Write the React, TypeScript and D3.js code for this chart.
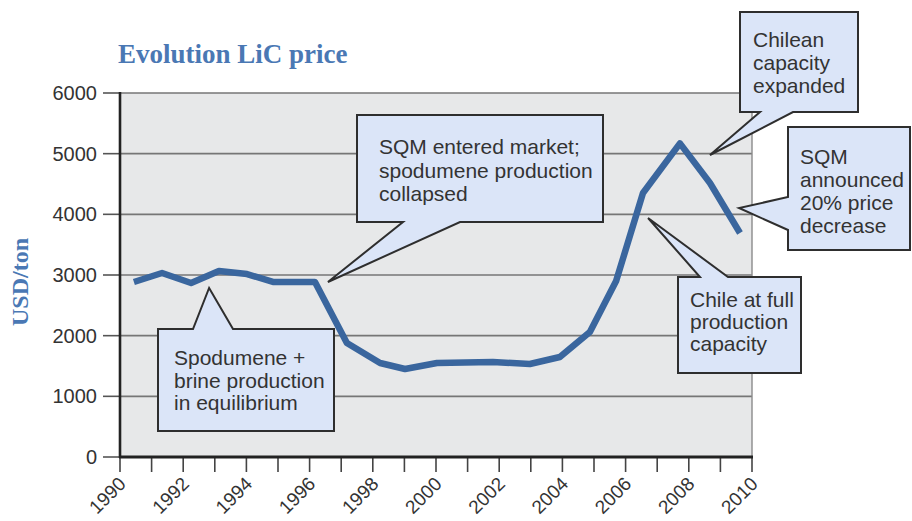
import React from "react";
import * as d3 from "d3";

// ---- data ----
const years = [1990.44, 1991.33, 1992.25, 1993.13, 1994.02, 1994.84, 1996.17, 1997.18, 1998.23, 1999.02, 2000.03, 2001.8, 2002.97, 2003.92, 2004.87, 2005.7, 2006.55, 2007.72, 2008.67, 2009.62];
const prices = [2885, 3033, 2868, 3066, 3016, 2885, 2885, 1879, 1549, 1450, 1549, 1566, 1533, 1648, 2060, 2900, 4351, 5170, 4516, 3692];
const yTicks = [0, 1000, 2000, 3000, 4000, 5000, 6000];
const xTickYears = d3.range(1990, 2011);
const xLabelYears = [1990, 1992, 1994, 1996, 1998, 2000, 2002, 2004, 2006, 2008, 2010];

const titleText = "Evolution LiC price";
const yAxisTitle = "USD/ton";

// callout annotations: text lines and the data point they refer to
const calloutLines = [
  ["Spodumene +", "brine production", "in equilibrium"],
  ["SQM entered market;", "spodumene production", "collapsed"],
  ["Chilean", "capacity", "expanded"],
  ["SQM", "announced", "20% price", "decrease"],
  ["Chile at full", "production", "capacity"],
];
const calloutTipYears = [1992.82, 1996.58, 2008.67, 2009.59, 2006.71];
const calloutTipValues = [2786, 2885, 4978, 4104, 3939];

// ---- layout ----
const W = 912;
const H = 521;
const L = 120, R = 752, T = 93, B = 457;

const boxes = [
  { x: 158, y: 329, w: 176, h: 102, side: "top", a: 193, b: 233, tx: 174, firstBase: 365, lh: 22.5 },
  { x: 357, y: 115, w: 246, h: 107, side: "bottom", a: 403, b: 460, tx: 379, firstBase: 154, lh: 23.5 },
  { x: 740, y: 12, w: 118, h: 100, side: "bottom", a: 760, b: 793, tx: 753, firstBase: 47, lh: 23 },
  { x: 788, y: 127, w: 122, h: 123, side: "left", a: 197, b: 230, tx: 800, firstBase: 164, lh: 23 },
  { x: 678, y: 277, w: 123, h: 96, side: "top", a: 700, b: 728, tx: 690, firstBase: 307, lh: 22 },
];

function calloutPath(bx: any, tip: [number, number]) {
  const { x, y, w, h, side, a, b } = bx;
  const p = d3.path();
  p.moveTo(x, y);
  if (side === "top") {
    p.lineTo(a, y);
    p.lineTo(tip[0], tip[1]);
    p.lineTo(b, y);
  }
  p.lineTo(x + w, y);
  p.lineTo(x + w, y + h);
  if (side === "bottom") {
    p.lineTo(b, y + h);
    p.lineTo(tip[0], tip[1]);
    p.lineTo(a, y + h);
  }
  p.lineTo(x, y + h);
  if (side === "left") {
    p.lineTo(x, b);
    p.lineTo(tip[0], tip[1]);
    p.lineTo(x, a);
  }
  p.closePath();
  return p.toString();
}

export default function App() {
  const xScale = d3.scaleLinear().domain([1990, 2010]).range([L, R]);
  const yScale = d3.scaleLinear().domain([0, 6000]).range([B, T]);
  const pts: [number, number][] = years.map((yr, i) => [yr, prices[i]]);
  const line = d3
    .line<[number, number]>()
    .x((d) => xScale(d[0]))
    .y((d) => yScale(d[1]));

  const sans = "'Liberation Sans', Arial, sans-serif";
  const serif = "'Liberation Serif', 'Times New Roman', serif";

  return (
    <svg width={W} height={H} style={{ position: "absolute", left: 0, top: 0, background: "#fff" }}>
      {/* title */}
      <text x={118} y={63} fontFamily={serif} fontWeight="bold" fontSize={27} fill="#4a78b4">
        {titleText}
      </text>
      {/* y axis title */}
      <text
        transform={`translate(28,${282}) rotate(-90)`}
        textAnchor="middle"
        fontFamily={serif}
        fontWeight="bold"
        fontSize={24}
        fill="#4a78b4"
      >
        {yAxisTitle}
      </text>

      {/* plot background */}
      <rect x={L} y={T} width={R - L} height={B - T} fill="#e7e8e9" />

      {/* gridlines */}
      {yTicks.filter((v) => v > 0).map((v) => (
        <line key={v} x1={L} x2={R} y1={yScale(v)} y2={yScale(v)} stroke="#767676" strokeWidth={1.6} />
      ))}
      {/* right border */}
      <line x1={R} x2={R} y1={T} y2={B} stroke="#8a8a8a" strokeWidth={1.4} />

      {/* y ticks and labels */}
      {yTicks.map((v) => (
        <g key={"yt" + v}>
          <line x1={103} x2={L} y1={yScale(v)} y2={yScale(v)} stroke="#555" strokeWidth={1.6} />
          <text x={97} y={yScale(v) + 7} textAnchor="end" fontFamily={sans} fontSize={20} fill="#333">
            {v}
          </text>
        </g>
      ))}

      {/* x ticks */}
      {xTickYears.map((yr) => (
        <line key={"xt" + yr} x1={xScale(yr)} x2={xScale(yr)} y1={B} y2={B + 15} stroke="#444" strokeWidth={1.6} />
      ))}
      {xLabelYears.map((yr) => (
        <text
          key={"xl" + yr}
          transform={`translate(${xScale(yr) + 7},${B + 28}) rotate(-45)`}
          textAnchor="end"
          fontFamily={sans}
          fontSize={19}
          fill="#333"
        >
          {yr}
        </text>
      ))}

      {/* data line */}
      <path d={line(pts) || ""} fill="none" stroke="#3a669e" strokeWidth={6.5} strokeLinejoin="round" strokeLinecap="butt" />

      {/* axes */}
      <line x1={L} x2={L} y1={T - 1} y2={B + 1} stroke="#222" strokeWidth={2.6} />
      <line x1={L - 1} x2={R + 1} y1={B} y2={B} stroke="#222" strokeWidth={2.8} />

      {/* callouts */}
      {boxes.map((bx, i) => {
        const tip: [number, number] = [xScale(calloutTipYears[i]), yScale(calloutTipValues[i])];
        return (
          <g key={"c" + i}>
            <path d={calloutPath(bx, tip)} fill="#dbe5f8" stroke="#2e2e2e" strokeWidth={2} strokeLinejoin="miter" />
            {calloutLines[i].map((ln, j) => (
              <text key={j} x={bx.tx} y={bx.firstBase + j * bx.lh} fontFamily={sans} fontSize={21} fill="#333">
                {ln}
              </text>
            ))}
          </g>
        );
      })}
    </svg>
  );
}
